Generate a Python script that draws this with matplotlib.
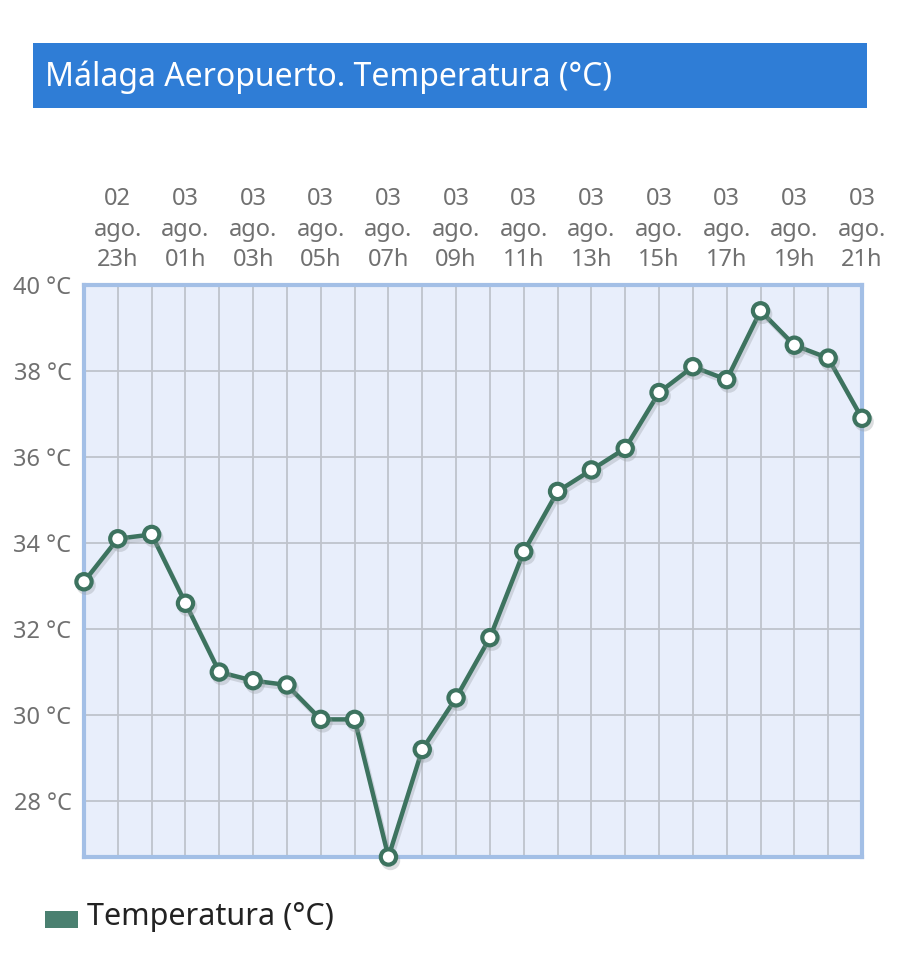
import matplotlib.pyplot as plt
import matplotlib.patheffects as pe
from matplotlib.patches import Rectangle

# Hourly observations, 02 ago 22h -> 03 ago 21h
hours = ['22h', '23h', '00h', '01h', '02h', '03h', '04h', '05h', '06h', '07h',
         '08h', '09h', '10h', '11h', '12h', '13h', '14h', '15h', '16h', '17h',
         '18h', '19h', '20h', '21h']
days = ['02', '02'] + ['03'] * 22
temps = [33.1, 34.1, 34.2, 32.6, 31.0, 30.8, 30.7, 29.9, 29.9, 26.7,
         29.2, 30.4, 31.8, 33.8, 35.2, 35.7, 36.2, 37.5, 38.1, 37.8,
         39.4, 38.6, 38.3, 36.9]
y_ticks = [28, 30, 32, 34, 36, 38, 40]

LINE_COLOR = '#3d735f'
FONT = ['Noto Sans', 'DejaVu Sans']
plt.rcParams['font.family'] = FONT

fig = plt.figure(figsize=(9, 9.75), dpi=100)
fig.patch.set_facecolor('white')

# Title bar
fig.patches.append(Rectangle((33 / 900, 1 - 108 / 975), 834 / 900, 65 / 975,
                             transform=fig.transFigure, facecolor='#2f7dd6',
                             edgecolor='none', zorder=0))
fig.text(45 / 900, 1 - 77 / 975, 'Málaga Aeropuerto. Temperatura (°C)',
         color='white', fontsize=23, va='center', ha='left')

ax = fig.add_axes([84 / 900, 1 - 857 / 975, 778 / 900, 572 / 975])
ax.set_facecolor('#e8eefb')

x = list(range(len(temps)))
ax.plot(x, temps, color=LINE_COLOR, lw=3.2, marker='o', markersize=11,
        markerfacecolor='white', markeredgecolor=LINE_COLOR, markeredgewidth=3,
        zorder=3, clip_on=False,
        path_effects=[pe.SimpleLineShadow(offset=(1.5, -2.5), shadow_color='#9aa0a6', alpha=0.35),
                      pe.Normal()])

ax.set_xlim(0, len(temps) - 1)
ax.set_ylim(min(temps), 40)

# vertical grid every hour, horizontal every 2 degrees
for xi in x[1:-1]:
    ax.axvline(xi, color='#bfc3cc', lw=1.3, zorder=1)
for yt in y_ticks[:-1]:
    ax.axhline(yt, color='#bfc3cc', lw=1.3, zorder=1)

tick_pos = x[1::2]
tick_lbl = [f'{days[i]}\nago.\n{hours[i]}' for i in tick_pos]
ax.set_xticks(tick_pos)
ax.set_xticklabels(tick_lbl, fontsize=17, color='#707070', linespacing=1.38)
ax.xaxis.tick_top()
ax.tick_params(axis='x', length=0, pad=9)

ax.set_yticks(y_ticks)
ax.set_yticklabels([f'{t} °C' for t in y_ticks], fontsize=17, color='#707070')
ax.tick_params(axis='y', length=0, pad=9)

for sp in ax.spines.values():
    sp.set_color('#a3bfe6')
    sp.set_linewidth(3)

# legend
fig.patches.append(Rectangle((45 / 900, 1 - 928 / 975), 33 / 900, 17 / 975,
                             transform=fig.transFigure, facecolor='#4a8070',
                             edgecolor='none'))
fig.text(87 / 900, 1 - 917 / 975, 'Temperatura (°C)', color='#222222',
         fontsize=22, va='center', ha='left')

fig.savefig('out.png', dpi=100, facecolor='white')
